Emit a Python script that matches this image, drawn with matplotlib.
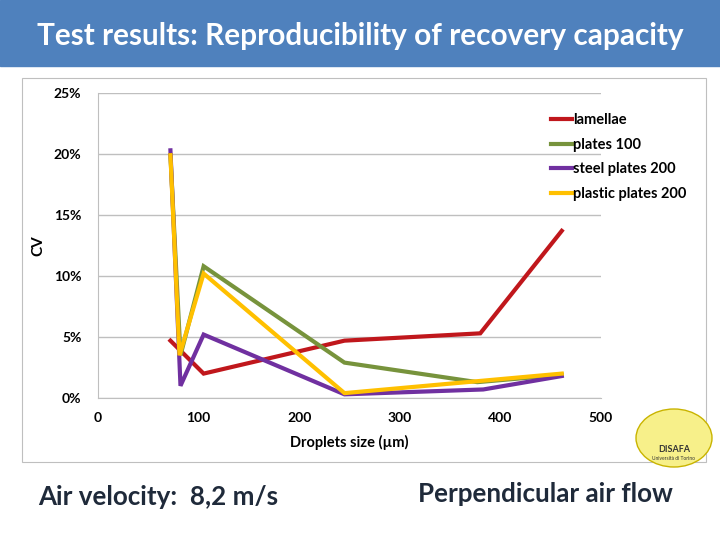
import matplotlib.pyplot as plt
from matplotlib.patches import Rectangle, Ellipse
from matplotlib.ticker import PercentFormatter

plt.rcParams['font.family'] = ['Lato', 'DejaVu Sans']

# Droplet size (um) and CV (%) per series
x_lam = [72, 105, 245, 380, 461]
cv_lam = [4.7, 2.0, 4.7, 5.3, 13.7]
x_pl100 = [72, 82, 105, 245, 377, 461]
cv_pl100 = [19.9, 3.5, 10.8, 2.9, 1.3, 1.9]
x_steel = [72, 82, 105, 245, 383, 461]
cv_steel = [20.3, 1.0, 5.2, 0.3, 0.7, 1.8]
x_plast = [72, 81, 105, 245, 380, 461]
cv_plast = [19.9, 3.5, 10.2, 0.4, 1.4, 2.0]

series = [
    ('lamellae', x_lam, cv_lam, '#C0171C'),
    ('plates 100', x_pl100, cv_pl100, '#77933C'),
    ('steel plates 200', x_steel, cv_steel, '#7030A0'),
    ('plastic plates 200', x_plast, cv_plast, '#FFC000'),
]

fig = plt.figure(figsize=(7.2, 5.4), dpi=100)

# title banner
fig.patches.append(Rectangle((0, 1 - 66 / 540), 1, 66 / 540, transform=fig.transFigure,
                             color='#4F81BD', zorder=0))
fig.text(0.5, 1 - 36 / 540, 'Test results: Reproducibility of recovery capacity',
         ha='center', va='center', color='white', fontsize=21.4, fontweight='bold')

# chart frame
fig.patches.append(Rectangle((22 / 720, 1 - 462 / 540), 684 / 720, 384 / 540,
                             transform=fig.transFigure, fill=False,
                             edgecolor='#BFBFBF', lw=0.8, zorder=0))

ax = fig.add_axes([98 / 720, 1 - 398 / 540, 503 / 720, 305 / 540])
for name, xs, ys, col in series:
    ax.plot(xs, ys, color=col, lw=3, label=name, solid_joinstyle='miter')

ax.set_xlim(0, 500)
ax.set_ylim(0, 25)
ax.set_xticks([0, 100, 200, 300, 400, 500])
ax.set_yticks([0, 5, 10, 15, 20, 25])
ax.yaxis.set_major_formatter(PercentFormatter(decimals=0))
ax.tick_params(length=0, labelsize=10, pad=12)
ax.tick_params(axis='x', pad=10)
for lab in ax.get_xticklabels() + ax.get_yticklabels():
    lab.set_fontweight('bold')
ax.grid(axis='y', color='#BFBFBF', lw=1)
ax.set_axisbelow(True)
for s in ['top', 'right']:
    ax.spines[s].set_visible(False)
ax.spines['left'].set_color('#BFBFBF')
ax.spines['bottom'].set_color('#BFBFBF')

ax.set_xlabel('Droplets size (µm)', fontweight='bold', fontsize=10.5, labelpad=8)
ax.set_ylabel('CV', fontweight='bold', fontsize=11, labelpad=6)

leg = fig.legend(loc='upper left', bbox_to_anchor=(544 / 720, 1 - 106 / 540),
                 frameon=False, fontsize=10.5, handlelength=1.4, handletextpad=0.1,
                 labelspacing=0.72, borderpad=0)
for t in leg.get_texts():
    t.set_fontweight('bold')

# logo
fig.patches.append(Ellipse((674 / 720, 1 - 438 / 540), 76 / 720, 58 / 540,
                           transform=fig.transFigure, facecolor='#F7F08A',
                           edgecolor='#C9B400', lw=1, zorder=3))
fig.text(674 / 720, 1 - 449 / 540, 'DISAFA', ha='center', va='center',
         fontsize=6.5, fontweight='bold', color='#333333', zorder=4)
fig.text(674 / 720, 1 - 459 / 540, 'Università di Torino', ha='center', va='center',
         fontsize=3.5, color='#333333', zorder=4)

# footer notes
fig.text(38 / 720, 1 - 497 / 540, 'Air velocity:  8,2 m/s', ha='left', va='center',
         fontsize=18.7, fontweight='bold', color='#1F2A3A')
fig.text(418 / 720, 1 - 494 / 540, 'Perpendicular air flow', ha='left', va='center',
         fontsize=18.7, fontweight='bold', color='#1F2A3A')

fig.savefig('out.png', dpi=100)
